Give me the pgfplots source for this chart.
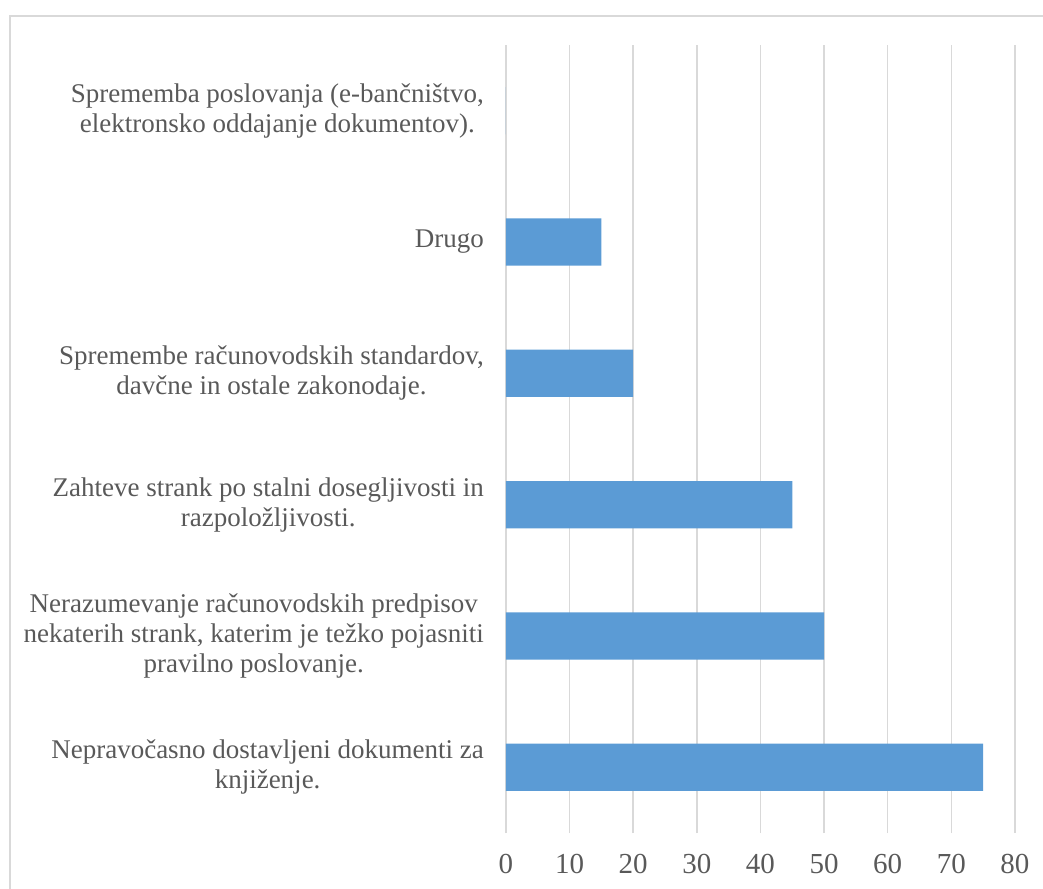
\documentclass[border=0pt]{standalone}
\usepackage{pgfplots}
\pgfplotsset{compat=1.18}
\usepackage{fontspec}
\setmainfont{Liberation Serif}
\definecolor{txt}{HTML}{595959}
\definecolor{gridc}{HTML}{D9D9D9}
\definecolor{barc}{HTML}{5B9BD5}
\begin{document}
\begin{tikzpicture}
\useasboundingbox (-253pt,-27.5pt) rectangle (268.5pt,416.5pt);
\draw[gridc, line width=0.75pt] (-248pt,-40pt) rectangle (280pt,408.5pt);
\begin{axis}[
 at={(0pt,0pt)}, anchor=south west,
 width=254.5pt, height=394pt, scale only axis,
 xbar, bar width=0.36,
 xmin=0, xmax=80, ymin=-0.5, ymax=5.5,
 xtick={0,10,...,80},
 ytick={0,...,5},
 yticklabels={
  {Nepravočasno dostavljeni dokumenti za\\ knjiženje.},
  {Nerazumevanje računovodskih predpisov\\ nekaterih strank, katerim je težko pojasniti\\ pravilno poslovanje.},
  {Zahteve strank po stalni dosegljivosti in\\ razpoložljivosti.},
  {Spremembe računovodskih standardov,\\ davčne in ostale zakonodaje.},
  {Drugo},
  {Sprememba poslovanja (e-bančništvo,\\ elektronsko oddajanje dokumentov).}
 },
 axis line style={draw=none},
 major tick length=0pt,
 xmajorgrids, major grid style={gridc, line width=0.75pt},
 tick label style={font=\fontsize{13.5}{15}\selectfont, text=txt},
 xticklabel style={font=\fontsize{14.5}{16}\selectfont, yshift=-7pt},
 yticklabel style={align=center, xshift=-7.5pt},
 /pgf/number format/assume math mode=true,
]
\addplot[fill=barc, draw=none] coordinates {(75,0) (50,1) (45,2) (20,3) (15,4) (0,5)};
\end{axis}
\end{tikzpicture}
\end{document}
